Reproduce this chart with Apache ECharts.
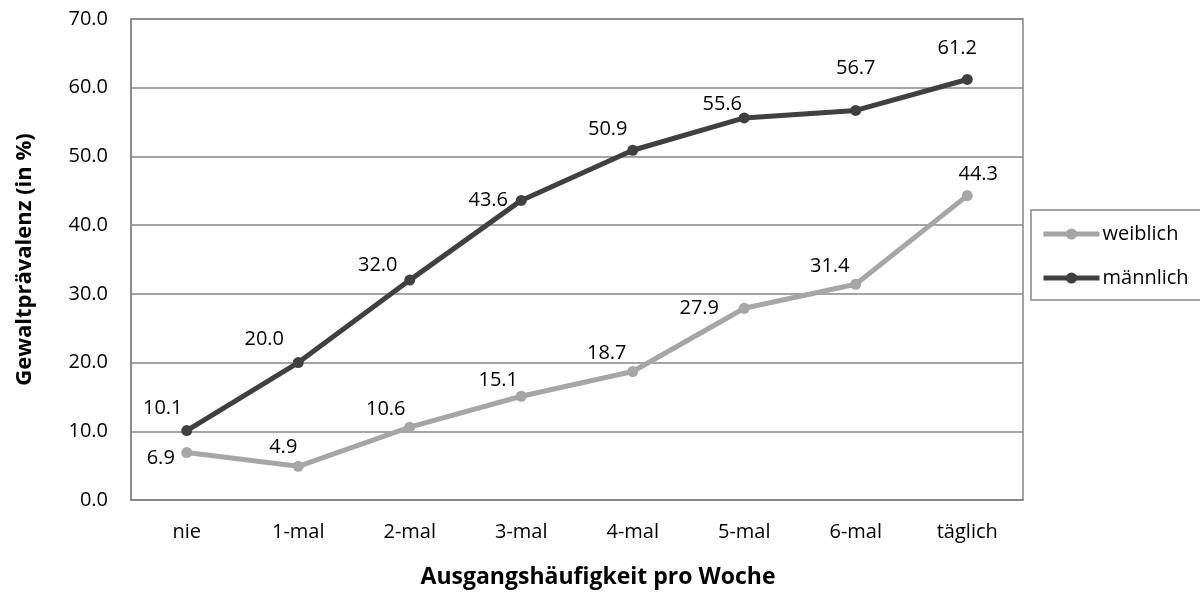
<!DOCTYPE html>
<html>
<head>
<meta charset="utf-8">
<script src="https://cdn.jsdelivr.net/npm/echarts@6/dist/echarts.min.js"></script>
<style>html,body{margin:0;padding:0;background:#fff}#c{width:1200px;height:595px}</style>
</head>
<body>
<div id="c"></div>
<script>
const categories = ['nie', '1-mal', '2-mal', '3-mal', '4-mal', '5-mal', '6-mal', 'täglich'];
const weiblich = [6.9, 4.9, 10.6, 15.1, 18.7, 27.9, 31.4, 44.3];
const maennlich = [10.1, 20.0, 32.0, 43.6, 50.9, 55.6, 56.7, 61.2];
const seriesNames = ['weiblich', 'männlich'];
const yTicks = { min: 0, max: 70, interval: 10 };

// label placement offsets (layout only)
const offW = [[-26, 6], [-15, -19], [-24, -18], [-23, -16], [-26, -18], [-45, 0], [-26, -18], [11, -21]];
const offM = [[-24, -22], [-34, -23], [-32, -15], [-33, 0], [-25, -21], [-22, -14], [0, -42], [-10, -31]];

const FONT = 'Open Sans';
const FS = 20;
function mkData(vals, offs) {
  return vals.map((v, i) => ({
    value: v,
    label: { offset: offs[i] }
  }));
}
const labelBase = {
  show: true, position: 'inside', align: 'center', verticalAlign: 'middle',
  color: '#000', fontFamily: FONT, fontSize: FS,
  formatter: p => p.value.toFixed(1)
};

const chart = echarts.init(document.getElementById('c'), null, { renderer: 'canvas' });
chart.setOption({
  animation: false,
  backgroundColor: '#fff',
  grid: { left: 131, right: 177, top: 19, bottom: 95, show: true, borderColor: '#868686', borderWidth: 1.5, containLabel: false },
  legend: {
    orient: 'vertical', left: 1031, top: 210,
    data: seriesNames,
    itemWidth: 56, itemHeight: 14, itemGap: 20,
    padding: [12, 60, 10, 10],
    borderColor: '#868686', borderWidth: 1.5,
    lineStyle: { width: 5 },
    textStyle: { fontFamily: FONT, fontSize: FS, color: '#000', lineHeight: 24, padding: [0, 0, 0, -2] }
  },
  xAxis: {
    type: 'category', data: categories, boundaryGap: true,
    axisLine: { show: true, lineStyle: { color: '#868686', width: 1.5 } },
    axisTick: { show: false },
    axisLabel: { color: '#000', fontFamily: FONT, fontSize: FS, margin: 22 },
    splitLine: { show: false }
  },
  yAxis: {
    type: 'value', min: yTicks.min, max: yTicks.max, interval: yTicks.interval,
    name: 'Gewaltprävalenz (in %)', nameLocation: 'middle', nameGap: 95,
    nameTextStyle: { fontFamily: FONT, fontSize: 22, fontWeight: 'bold', color: '#000' },
    axisLine: { show: true, lineStyle: { color: '#868686', width: 1.5 } },
    axisTick: { show: false },
    axisLabel: { color: '#000', fontFamily: FONT, fontSize: FS, margin: 23, formatter: v => v.toFixed(1) },
    splitLine: { show: true, lineStyle: { color: '#868686', width: 1.5 } }
  },
  graphic: [{
    type: 'text', x: 598, y: 577,
    style: { text: 'Ausgangshäufigkeit pro Woche', fontFamily: FONT, fontSize: 23, fontWeight: 'bold', fill: '#000', align: 'center', verticalAlign: 'middle' }
  }],
  series: [
    {
      name: seriesNames[0], type: 'line', data: mkData(weiblich, offW),
      symbol: 'circle', symbolSize: 11,
      lineStyle: { color: '#a6a6a6', width: 5 }, itemStyle: { color: '#a6a6a6' },
      label: labelBase, z: 3
    },
    {
      name: seriesNames[1], type: 'line', data: mkData(maennlich, offM),
      symbol: 'circle', symbolSize: 11,
      lineStyle: { color: '#404040', width: 5 }, itemStyle: { color: '#404040' },
      label: labelBase, z: 4
    }
  ]
});
</script>
</body>
</html>
